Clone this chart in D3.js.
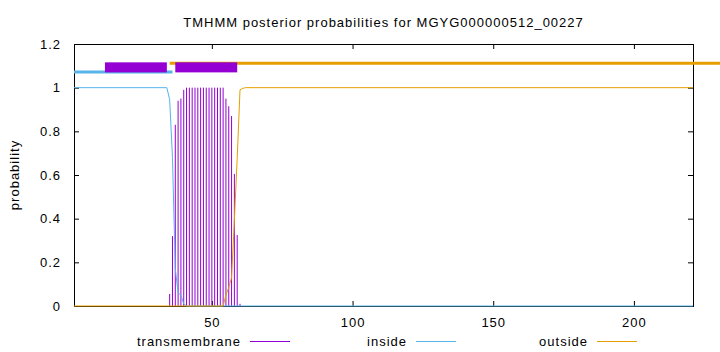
<!DOCTYPE html>
<html lang="en">
<head>
    <meta charset="UTF-8">
    <title>TMHMM posterior probabilities</title>
    <script src="https://cdnjs.cloudflare.com/ajax/libs/d3/7.6.1/d3.min.js"></script>
    <style>
        body { margin: 0; background: #fff; }
        text { font-family: "Liberation Sans", Arial, sans-serif; letter-spacing: 1px; }
    </style>
</head>
<body>
    <div id="chart"></div>

    <script>
        const title = "TMHMM posterior probabilities for MGYG000000512_00227";
        const xRange = [1, 221];
        const xTicks = [50, 100, 150, 200];
        const yTicks = [0, 0.2, 0.4, 0.6, 0.8, 1, 1.2];

        // transmembrane posterior, one impulse per residue (zero elsewhere)
        const tmPos = [35, 36, 37, 38, 39, 40, 41, 42, 43, 44, 45, 46, 47, 48, 49, 50, 51, 52, 53, 54, 55, 56, 57, 58, 59, 60];
        const tmProb = [0.055, 0.32, 0.83, 0.94, 0.95, 0.99, 1, 1, 1, 1, 1, 1, 1, 1, 1, 1, 1, 1, 1, 1, 0.95, 0.915, 0.87, 0.605, 0.325, 0.01];

        // inside / outside posterior (breakpoints of the line)
        const insidePos = [1, 34, 35, 36, 37, 38, 39, 40, 41, 221];
        const insideProb = [1, 1, 0.945, 0.68, 0.17, 0.06, 0.05, 0.01, 0, 0];
        const outsidePos = [1, 54, 55, 56, 57, 58, 59, 60, 61, 62, 221];
        const outsideProb = [0, 0, 0.05, 0.085, 0.13, 0.395, 0.675, 0.99, 0.997, 1, 1];

        // predicted topology drawn above the curves
        const insideSeg = [1, 36];
        const outsideSeg = [35, 232];
        const tmSegs = [[12, 34], [37, 59]];
        const segLevel = { inside: 1.072, outside: 1.112, tmLow: 1.07, tmHigh: 1.116 };

        const colors = { tm: "#9400d3", inside: "#56b4e9", outside: "#e69f00" };

        const width = 720, height = 352;
        const margin = { top: 44, right: 27, bottom: 46, left: 74 };

        const svg = d3.select("#chart").append("svg")
            .attr("width", width)
            .attr("height", height);

        const x = d3.scaleLinear()
            .domain(xRange)
            .range([margin.left, width - margin.right]);

        const y = d3.scaleLinear()
            .domain([0, 1.2])
            .range([height - margin.bottom, margin.top]);

        // title
        svg.append("text")
            .attr("x", (x.range()[0] + x.range()[1]) / 2)
            .attr("y", 27)
            .attr("text-anchor", "middle")
            .attr("font-size", "13px")
            .text(title);

        // axes (gnuplot style: ticks inside, mirrored)
        svg.append("g")
            .attr("transform", `translate(0,${y(0)})`)
            .call(d3.axisBottom(x).tickValues(xTicks).tickSize(-5).tickPadding(12).tickFormat(d3.format("d")));
        svg.append("g")
            .attr("transform", `translate(0,${y(1.2)})`)
            .call(d3.axisTop(x).tickValues(xTicks).tickSize(-5).tickFormat(""));
        svg.append("g")
            .attr("transform", `translate(${x(xRange[0])},0)`)
            .call(d3.axisLeft(y).tickValues(yTicks).tickSize(-5).tickPadding(13).tickFormat(d => d3.format("~g")(d)));
        svg.append("g")
            .attr("transform", `translate(${x(xRange[1])},0)`)
            .call(d3.axisRight(y).tickValues(yTicks).tickSize(-5).tickFormat(""));

        svg.selectAll(".domain").remove();
        svg.selectAll(".tick line").attr("stroke", "#000");
        svg.selectAll(".tick text").attr("font-size", "13px").attr("fill", "#000")
            .attr("font-family", "'Liberation Sans', Arial, sans-serif");

        svg.append("rect")
            .attr("x", x(xRange[0]) + 0.5)
            .attr("y", y(1.2) + 0.5)
            .attr("width", x(xRange[1]) - x(xRange[0]))
            .attr("height", y(0) - y(1.2))
            .attr("fill", "none")
            .attr("stroke", "#000");

        // y label
        svg.append("text")
            .attr("transform", `translate(19,${(y(0) + y(1.2)) / 2}) rotate(-90)`)
            .attr("text-anchor", "middle")
            .attr("font-size", "13px")
            .text("probability");

        // transmembrane impulses
        svg.append("g")
            .selectAll("line")
            .data(tmPos.map((p, i) => ({ p, v: tmProb[i] })))
            .join("line")
            .attr("x1", d => x(d.p))
            .attr("x2", d => x(d.p))
            .attr("y1", y(0))
            .attr("y2", d => y(d.v))
            .attr("stroke", colors.tm)
            .attr("stroke-width", 1);

        const line = d3.line().x(d => x(d[0])).y(d => y(d[1]));

        svg.append("path")
            .datum(insidePos.map((p, i) => [p, insideProb[i]]))
            .attr("d", line)
            .attr("fill", "none")
            .attr("stroke", colors.inside)
            .attr("stroke-width", 1);

        svg.append("path")
            .datum(outsidePos.map((p, i) => [p, outsideProb[i]]))
            .attr("d", line)
            .attr("fill", "none")
            .attr("stroke", colors.outside)
            .attr("stroke-width", 1);

        // topology bars
        svg.append("line")
            .attr("x1", x(insideSeg[0])).attr("x2", x(insideSeg[1]))
            .attr("y1", y(segLevel.inside)).attr("y2", y(segLevel.inside))
            .attr("stroke", colors.inside).attr("stroke-width", 3);

        svg.append("line")
            .attr("x1", x(outsideSeg[0])).attr("x2", x(outsideSeg[1]))
            .attr("y1", y(segLevel.outside)).attr("y2", y(segLevel.outside))
            .attr("stroke", colors.outside).attr("stroke-width", 3);

        svg.append("g")
            .selectAll("rect")
            .data(tmSegs)
            .join("rect")
            .attr("x", d => x(d[0]))
            .attr("width", d => x(d[1]) - x(d[0]))
            .attr("y", y(segLevel.tmHigh))
            .attr("height", y(segLevel.tmLow) - y(segLevel.tmHigh))
            .attr("fill", colors.tm);

        // legend
        const legend = [
            { name: "transmembrane", color: colors.tm, end: 241 },
            { name: "inside", color: colors.inside, end: 407 },
            { name: "outside", color: colors.outside, end: 588 }
        ];
        const lg = svg.append("g").selectAll("g").data(legend).join("g");
        lg.append("text")
            .attr("x", d => d.end)
            .attr("y", 346)
            .attr("text-anchor", "end")
            .attr("font-size", "13px")
            .text(d => d.name);
        lg.append("line")
            .attr("x1", d => d.end + 9)
            .attr("x2", d => d.end + 49)
            .attr("y1", 341.5)
            .attr("y2", 341.5)
            .attr("stroke", d => d.color);
    </script>
</body>
</html>
